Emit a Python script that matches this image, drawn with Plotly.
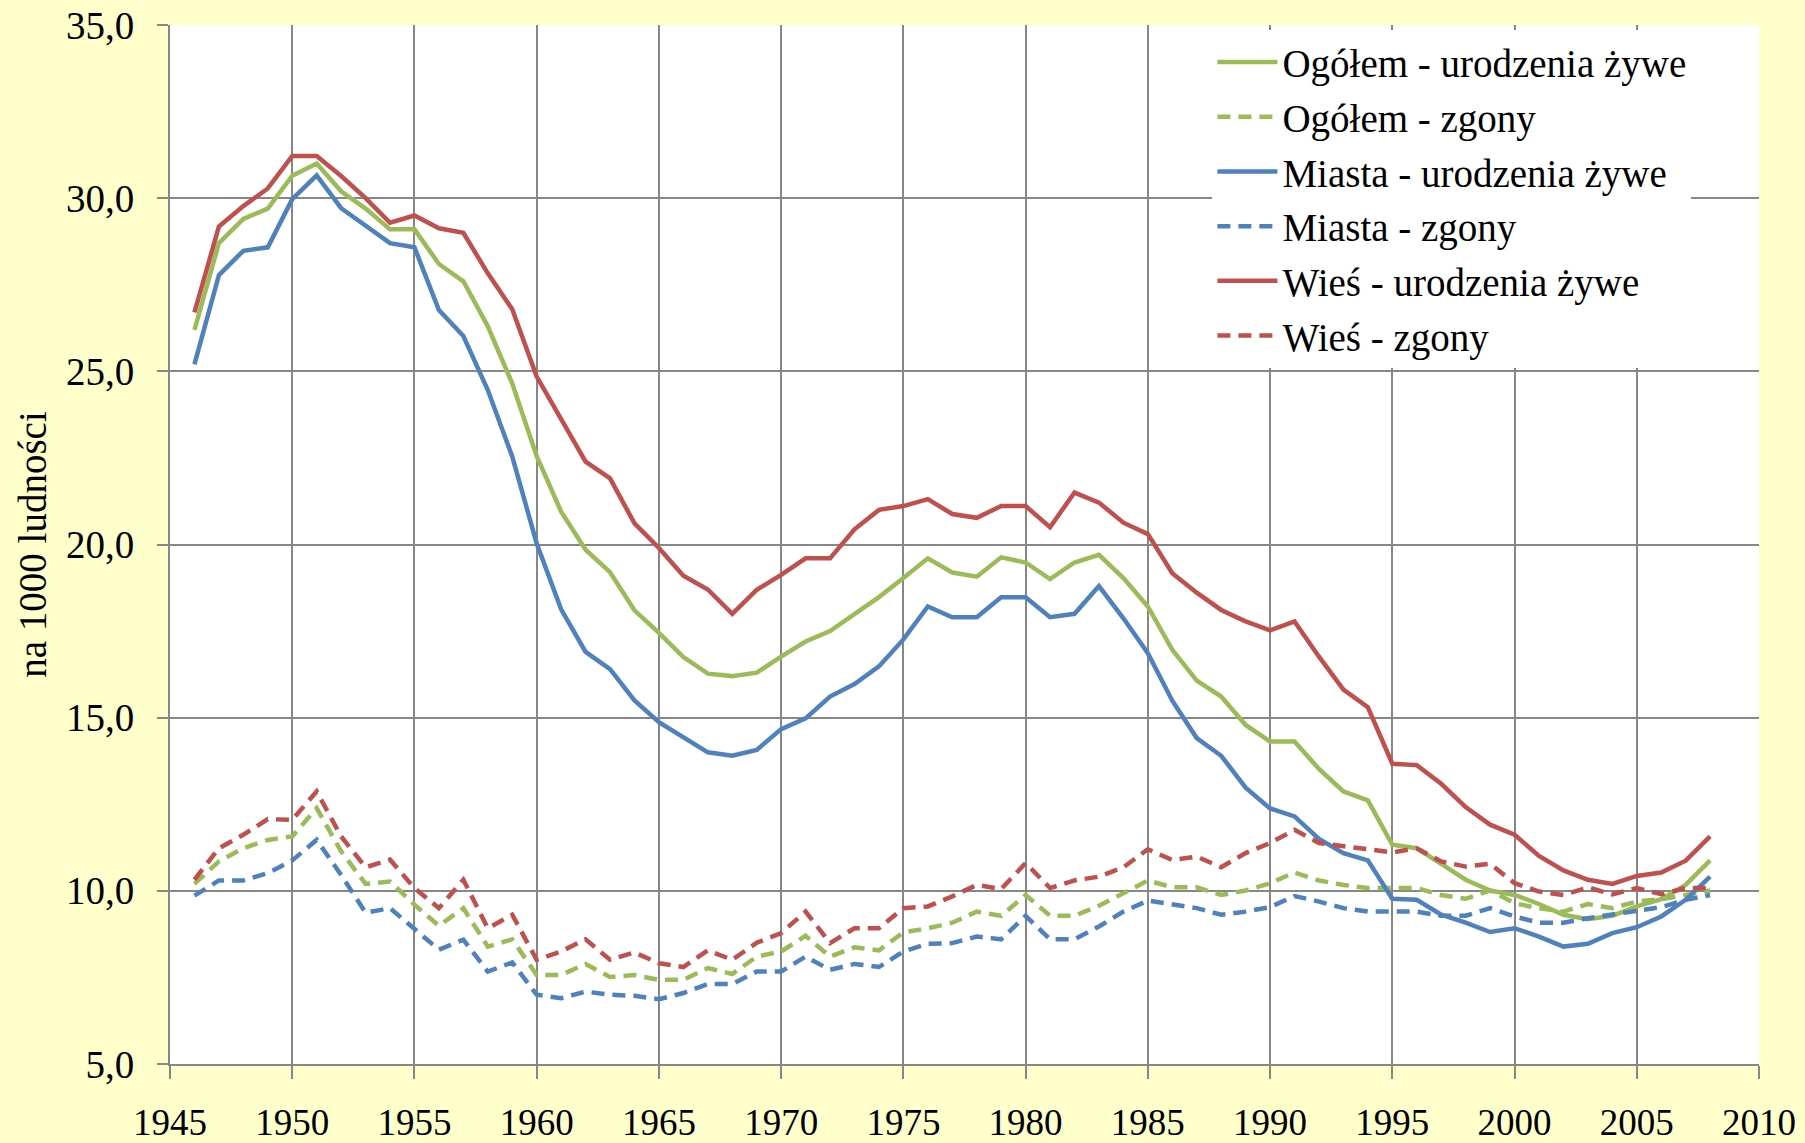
import plotly.graph_objects as go

years = list(range(1946, 2009))

ogolem_ur = [26.2, 28.7, 29.4, 29.7, 30.65, 31.0, 30.2, 29.7, 29.1, 29.1, 28.1, 27.6, 26.3, 24.65, 22.55,
             20.95, 19.85, 19.2, 18.1, 17.45, 16.75, 16.27, 16.2, 16.3, 16.76, 17.2, 17.5, 18.0, 18.48, 19.03,
             19.6, 19.19, 19.07, 19.63, 19.48, 19.0, 19.48, 19.7, 19.03, 18.21, 16.96, 16.07, 15.61, 14.79, 14.31,
             14.31, 13.52, 12.87, 12.61, 11.33, 11.23, 10.78, 10.32, 10.01, 9.88, 9.62, 9.31, 9.18, 9.28, 9.55,
             9.76, 10.17, 10.88]
ogolem_zg = [10.2, 10.85, 11.23, 11.47, 11.57, 12.39, 11.14, 10.2, 10.27, 9.6, 8.99, 9.5, 8.39, 8.6, 7.57,
             7.57, 7.89, 7.51, 7.57, 7.43, 7.43, 7.77, 7.6, 8.1, 8.25, 8.7, 8.1, 8.37, 8.28, 8.8,
             8.92, 9.08, 9.4, 9.28, 9.88, 9.28, 9.28, 9.57, 9.93, 10.3, 10.1, 10.1, 9.88, 10.01, 10.22,
             10.53, 10.3, 10.17, 10.08, 10.08, 10.08, 9.88, 9.77, 10.01, 9.64, 9.5, 9.4, 9.62, 9.5, 9.69,
             9.76, 9.88, 10.01]
miasta_ur = [25.2, 27.78, 28.48, 28.58, 29.97, 30.66, 29.71, 29.2, 28.7, 28.58, 26.77, 26.02, 24.46, 22.54, 20.03,
             18.13, 16.9, 16.4, 15.5, 14.87, 14.44, 14.0, 13.9, 14.07, 14.67, 14.98, 15.61, 15.97, 16.48, 17.26,
             18.21, 17.9, 17.9, 18.48, 18.48, 17.9, 18.0, 18.8, 17.87, 16.86, 15.49, 14.41, 13.9, 12.98, 12.38,
             12.15, 11.5, 11.09, 10.88, 9.77, 9.74, 9.31, 9.08, 8.81, 8.92, 8.68, 8.39, 8.47, 8.78, 8.95,
             9.26, 9.74, 10.41]
miasta_zg = [9.86, 10.3, 10.3, 10.51, 10.88, 11.47, 10.46, 9.37, 9.5, 8.89, 8.3, 8.59, 7.67, 7.93, 7.0,
             6.9, 7.09, 7.0, 6.97, 6.87, 7.05, 7.31, 7.31, 7.67, 7.67, 8.1, 7.72, 7.89, 7.8, 8.25,
             8.47, 8.49, 8.68, 8.6, 9.28, 8.6, 8.6, 8.97, 9.4, 9.72, 9.6, 9.5, 9.31, 9.4, 9.53,
             9.85, 9.69, 9.5, 9.4, 9.4, 9.4, 9.28, 9.28, 9.5, 9.26, 9.08, 9.08, 9.21, 9.31, 9.43,
             9.53, 9.74, 9.88]
wies_ur = [26.7, 29.18, 29.77, 30.28, 31.22, 31.22, 30.64, 30.0, 29.29, 29.5, 29.13, 29.0, 27.83, 26.79, 24.85,
           23.6, 22.39, 21.91, 20.61, 19.9, 19.1, 18.7, 18.0, 18.69, 19.12, 19.6, 19.6, 20.44, 21.0, 21.11,
           21.31, 20.88, 20.77, 21.11, 21.11, 20.5, 21.5, 21.21, 20.63, 20.3, 19.17, 18.61, 18.11, 17.78, 17.52,
           17.78, 16.76, 15.81, 15.3, 13.67, 13.63, 13.09, 12.42, 11.91, 11.62, 11.01, 10.59, 10.32, 10.2, 10.43,
           10.53, 10.87, 11.57]
wies_zg = [10.32, 11.23, 11.62, 12.07, 12.05, 12.87, 11.57, 10.68, 10.9, 10.08, 9.5, 10.32, 8.92, 9.31, 8.01,
           8.25, 8.6, 8.01, 8.22, 7.91, 7.8, 8.28, 8.01, 8.5, 8.78, 9.4, 8.49, 8.92, 8.92, 9.5,
           9.55, 9.84, 10.17, 10.05, 10.8, 10.08, 10.3, 10.41, 10.68, 11.2, 10.89, 10.99, 10.68, 11.09, 11.38,
           11.76, 11.38, 11.28, 11.18, 11.11, 11.23, 10.85, 10.7, 10.78, 10.22, 9.98, 9.88, 10.1, 9.9, 10.08,
           9.9, 10.08, 10.08]

series_names = ["Ogółem - urodzenia żywe", "Ogółem - zgony", "Miasta - urodzenia żywe",
                "Miasta - zgony", "Wieś - urodzenia żywe", "Wieś - zgony"]
series_values = [ogolem_ur, ogolem_zg, miasta_ur, miasta_zg, wies_ur, wies_zg]
series_colors = ["#9BBB59", "#9BBB59", "#4F81BD", "#4F81BD", "#C0504D", "#C0504D"]
series_dash = ["solid", "13px,8px", "solid", "13px,8px", "solid", "13px,8px"]

x_ticks = list(range(1945, 2011, 5))
y_ticks = [5, 10, 15, 20, 25, 30, 35]

FONT = "Liberation Serif"
GRID = "#878787"

fig = go.Figure()
for i, (name, vals, col, dash) in enumerate(zip(series_names, series_values, series_colors, series_dash)):
    fig.add_trace(go.Scatter(x=years, y=vals, mode="lines", name=name,
                             legendgroup=f"g{i}",
                             line=dict(color=col, width=4.5, dash=dash)))

fig.update_layout(
    width=1805, height=1143,
    paper_bgcolor="#FFFFCC", plot_bgcolor="#FFFFFF",
    margin=dict(l=170, r=46, t=25, b=79, pad=0, autoexpand=False),
    separators=", ",
    font=dict(family=FONT, size=37, color="#000000"),
    showlegend=True,
    legend=dict(x=0.656, y=0.995, xanchor="left", yanchor="top",
                bgcolor="#FFFFFF", borderwidth=0,
                font=dict(family=FONT, size=39, color="#000000"),
                traceorder="grouped", tracegroupgap=1, itemwidth=60),
)
fig.update_xaxes(range=[1945, 2010], tickvals=x_ticks, ticktext=[str(v) for v in x_ticks],
                 automargin=False,
                 showgrid=True, gridcolor=GRID, gridwidth=1.5,
                 showline=True, linecolor=GRID, linewidth=2,
                 ticks="outside", ticklen=13, tickcolor=GRID, tickwidth=1.5,
                 ticklabelstandoff=12, zeroline=False,
                 tickfont=dict(family=FONT, size=37))
fig.update_yaxes(range=[5, 35], tickvals=y_ticks, tickformat=".1f",
                 automargin=False,
                 showgrid=True, gridcolor=GRID, gridwidth=1.5,
                 showline=True, linecolor=GRID, linewidth=2,
                 ticks="outside", ticklen=11, tickcolor=GRID, tickwidth=1.5,
                 ticklabelstandoff=15, zeroline=False,
                 tickfont=dict(family=FONT, size=39),
                 title=dict(text="na 1000 ludności", font=dict(family=FONT, size=39), standoff=7))

fig.write_html("out.html", config={"displayModeBar": False},
               post_script="document.body.style.margin='0px';document.body.style.background='#FFFFCC';")
